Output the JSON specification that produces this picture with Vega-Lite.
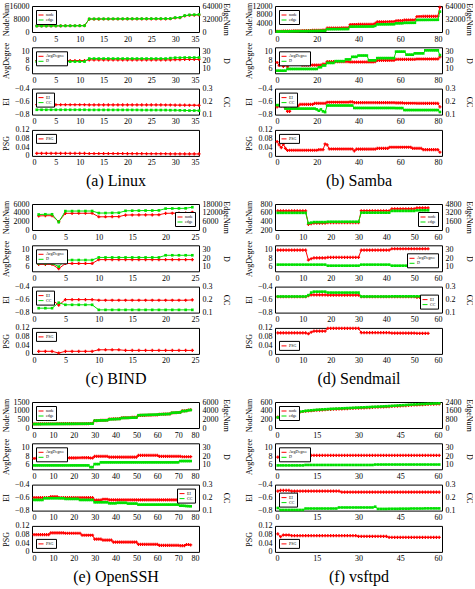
{
"$schema":"https://vega.github.io/schema/vega-lite/v6.json",
"padding":{"left":1,"top":1,"right":0,"bottom":0},
"config":{
"font":"Liberation Serif",
"view":{"stroke":"#000","strokeWidth":1},
"axis":{"labelFont":"Liberation Serif","titleFont":"Liberation Serif","labelFontSize":8,"titleFontSize":8,"titleFontWeight":"normal","labelColor":"#000","titleColor":"#000","grid":false,"domain":false,"ticks":false,"labelPadding":3},
"legend":{"labelFont":"Liberation Serif","labelFontSize":4,"symbolType":"stroke","symbolSize":25,"symbolStrokeWidth":1.5,"strokeColor":"#000","fillColor":"#fff","padding":2,"rowPadding":0,"labelOffset":2,"offset":4},
"line":{"strokeWidth":1}
},
"datasets":{
"linux":[
{"v":1,"n":3700,"e":14710,"a":7.95,"d":18.5,"ei":-0.648,"cc":0.137,"ps":0.012},
{"v":2,"n":3720,"e":14790,"a":7.95,"d":18.5,"ei":-0.648,"cc":0.137,"ps":0.012},
{"v":3,"n":3740,"e":14870,"a":7.95,"d":18.5,"ei":-0.648,"cc":0.137,"ps":0.012},
{"v":4,"n":3760,"e":14950,"a":7.95,"d":18.5,"ei":-0.648,"cc":0.137,"ps":0.012},
{"v":5,"n":3780,"e":15030,"a":7.95,"d":18.5,"ei":-0.648,"cc":0.137,"ps":0.012},
{"v":6,"n":3800,"e":15110,"a":7.95,"d":18.5,"ei":-0.648,"cc":0.137,"ps":0.0118},
{"v":7,"n":3820,"e":15190,"a":7.95,"d":18.5,"ei":-0.648,"cc":0.137,"ps":0.0118},
{"v":8,"n":3840,"e":15260,"a":7.95,"d":18.5,"ei":-0.648,"cc":0.137,"ps":0.0116},
{"v":9,"n":3860,"e":15340,"a":7.95,"d":18.5,"ei":-0.648,"cc":0.137,"ps":0.0116},
{"v":10,"n":3880,"e":15420,"a":7.95,"d":18.5,"ei":-0.648,"cc":0.137,"ps":0.0115},
{"v":11,"n":3900,"e":15500,"a":7.95,"d":18.5,"ei":-0.648,"cc":0.137,"ps":0.0115},
{"v":12,"n":7950,"e":32200,"a":8.1,"d":22,"ei":-0.65,"cc":0.136,"ps":0.011},
{"v":13,"n":7960,"e":32240,"a":8.1,"d":22,"ei":-0.65,"cc":0.136,"ps":0.011},
{"v":14,"n":7970,"e":32280,"a":8.1,"d":22,"ei":-0.65,"cc":0.136,"ps":0.011},
{"v":15,"n":7980,"e":32320,"a":8.1,"d":22,"ei":-0.65,"cc":0.136,"ps":0.011},
{"v":16,"n":7990,"e":32360,"a":8.1,"d":22,"ei":-0.65,"cc":0.136,"ps":0.011},
{"v":17,"n":8000,"e":32400,"a":8.1,"d":22,"ei":-0.65,"cc":0.136,"ps":0.011},
{"v":18,"n":8010,"e":32440,"a":8.1,"d":22,"ei":-0.65,"cc":0.136,"ps":0.011},
{"v":19,"n":8020,"e":32480,"a":8.1,"d":22,"ei":-0.65,"cc":0.136,"ps":0.011},
{"v":20,"n":8030,"e":32520,"a":8.1,"d":22,"ei":-0.65,"cc":0.136,"ps":0.0105},
{"v":21,"n":8040,"e":32560,"a":8.1,"d":22,"ei":-0.65,"cc":0.136,"ps":0.0105},
{"v":22,"n":8050,"e":32600,"a":8.1,"d":22,"ei":-0.65,"cc":0.136,"ps":0.0105},
{"v":23,"n":8060,"e":32640,"a":8.1,"d":22,"ei":-0.651,"cc":0.135,"ps":0.0105},
{"v":24,"n":8070,"e":32680,"a":8.1,"d":22,"ei":-0.651,"cc":0.135,"ps":0.01},
{"v":25,"n":8080,"e":32720,"a":8.1,"d":22,"ei":-0.651,"cc":0.135,"ps":0.01},
{"v":26,"n":8090,"e":32760,"a":8.1,"d":22,"ei":-0.651,"cc":0.135,"ps":0.01},
{"v":27,"n":8100,"e":32800,"a":8.1,"d":22,"ei":-0.651,"cc":0.135,"ps":0.01},
{"v":28,"n":8110,"e":32850,"a":8.1,"d":22,"ei":-0.652,"cc":0.135,"ps":0.01},
{"v":29,"n":8150,"e":33000,"a":8.1,"d":22.5,"ei":-0.652,"cc":0.134,"ps":0.0095},
{"v":30,"n":8700,"e":35400,"a":8.15,"d":23,"ei":-0.653,"cc":0.134,"ps":0.0095},
{"v":31,"n":8800,"e":35800,"a":8.15,"d":23,"ei":-0.654,"cc":0.133,"ps":0.0095},
{"v":32,"n":9900,"e":40400,"a":8.2,"d":23.2,"ei":-0.655,"cc":0.132,"ps":0.009},
{"v":33,"n":10300,"e":42000,"a":8.2,"d":23.2,"ei":-0.656,"cc":0.131,"ps":0.009},
{"v":34,"n":10400,"e":42500,"a":8.2,"d":23.2,"ei":-0.656,"cc":0.131,"ps":0.009},
{"v":35,"n":10500,"e":43000,"a":8.2,"d":23.2,"ei":-0.657,"cc":0.13,"ps":0.009}
],
"samba":[
{"v":1,"n":300,"e":1125,"a":7.5,"d":8,"ei":-0.68,"cc":0.173,"ps":0.066},
{"v":2,"n":325,"e":1105,"a":6.8,"d":8,"ei":-0.665,"cc":0.173,"ps":0.051},
{"v":3,"n":350,"e":1260,"a":7.2,"d":8,"ei":-0.665,"cc":0.173,"ps":0.038},
{"v":4,"n":375,"e":1238,"a":6.6,"d":8,"ei":-0.665,"cc":0.173,"ps":0.054},
{"v":5,"n":400,"e":1400,"a":7.0,"d":8,"ei":-0.7,"cc":0.146,"ps":0.035},
{"v":6,"n":425,"e":1381,"a":6.5,"d":10,"ei":-0.75,"cc":0.146,"ps":0.025},
{"v":7,"n":450,"e":1665,"a":7.4,"d":10,"ei":-0.75,"cc":0.146,"ps":0.026},
{"v":8,"n":475,"e":1758,"a":7.4,"d":10,"ei":-0.67,"cc":0.146,"ps":0.026},
{"v":9,"n":500,"e":1850,"a":7.4,"d":10,"ei":-0.67,"cc":0.146,"ps":0.026},
{"v":10,"n":525,"e":1943,"a":7.4,"d":10,"ei":-0.67,"cc":0.146,"ps":0.026},
{"v":11,"n":550,"e":2035,"a":7.4,"d":10,"ei":-0.67,"cc":0.146,"ps":0.026},
{"v":12,"n":575,"e":2128,"a":7.4,"d":10,"ei":-0.643,"cc":0.146,"ps":0.026},
{"v":13,"n":600,"e":2070,"a":6.9,"d":10,"ei":-0.643,"cc":0.146,"ps":0.026},
{"v":14,"n":625,"e":2156,"a":6.9,"d":10,"ei":-0.643,"cc":0.146,"ps":0.026},
{"v":15,"n":650,"e":2243,"a":6.9,"d":10,"ei":-0.643,"cc":0.146,"ps":0.026},
{"v":16,"n":675,"e":2329,"a":6.9,"d":10,"ei":-0.643,"cc":0.146,"ps":0.026},
{"v":17,"n":700,"e":2415,"a":6.9,"d":10,"ei":-0.643,"cc":0.146,"ps":0.026},
{"v":18,"n":725,"e":2501,"a":6.9,"d":10,"ei":-0.643,"cc":0.146,"ps":0.026},
{"v":19,"n":750,"e":2588,"a":6.9,"d":10,"ei":-0.627,"cc":0.146,"ps":0.026},
{"v":20,"n":775,"e":2674,"a":6.9,"d":10,"ei":-0.627,"cc":0.14,"ps":0.026},
{"v":21,"n":800,"e":2760,"a":6.9,"d":12,"ei":-0.627,"cc":0.13,"ps":0.029},
{"v":22,"n":825,"e":2846,"a":6.9,"d":12,"ei":-0.627,"cc":0.14,"ps":0.029},
{"v":23,"n":850,"e":3018,"a":7.1,"d":14,"ei":-0.627,"cc":0.125,"ps":0.029},
{"v":24,"n":875,"e":3106,"a":7.1,"d":14,"ei":-0.627,"cc":0.119,"ps":0.055},
{"v":25,"n":1800,"e":6930,"a":7.7,"d":17,"ei":-0.61,"cc":0.17,"ps":0.051},
{"v":26,"n":1810,"e":6969,"a":7.7,"d":17,"ei":-0.61,"cc":0.17,"ps":0.032},
{"v":27,"n":1820,"e":7007,"a":7.7,"d":17,"ei":-0.61,"cc":0.17,"ps":0.032},
{"v":28,"n":1830,"e":7046,"a":7.7,"d":17,"ei":-0.61,"cc":0.17,"ps":0.032},
{"v":29,"n":1840,"e":7084,"a":7.7,"d":19,"ei":-0.61,"cc":0.17,"ps":0.032},
{"v":30,"n":1850,"e":7123,"a":7.7,"d":19,"ei":-0.61,"cc":0.17,"ps":0.032},
{"v":31,"n":1860,"e":7161,"a":7.7,"d":19,"ei":-0.61,"cc":0.17,"ps":0.032},
{"v":32,"n":1870,"e":7200,"a":7.7,"d":19,"ei":-0.61,"cc":0.17,"ps":0.032},
{"v":33,"n":1880,"e":7238,"a":7.7,"d":19,"ei":-0.61,"cc":0.17,"ps":0.032},
{"v":34,"n":1890,"e":7277,"a":7.7,"d":21,"ei":-0.61,"cc":0.17,"ps":0.032},
{"v":35,"n":1900,"e":7315,"a":7.7,"d":21,"ei":-0.61,"cc":0.17,"ps":0.032},
{"v":36,"n":3450,"e":13110,"a":7.6,"d":21,"ei":-0.605,"cc":0.17,"ps":0.032},
{"v":37,"n":3460,"e":13148,"a":7.6,"d":24,"ei":-0.605,"cc":0.17,"ps":0.032},
{"v":38,"n":3470,"e":13186,"a":7.6,"d":24,"ei":-0.615,"cc":0.151,"ps":0.023},
{"v":39,"n":3480,"e":13224,"a":7.6,"d":24,"ei":-0.615,"cc":0.151,"ps":0.031},
{"v":40,"n":3490,"e":13262,"a":7.6,"d":25.5,"ei":-0.615,"cc":0.151,"ps":0.031},
{"v":41,"n":3500,"e":13300,"a":7.6,"d":25.5,"ei":-0.615,"cc":0.151,"ps":0.031},
{"v":42,"n":3510,"e":13338,"a":7.6,"d":25.5,"ei":-0.615,"cc":0.151,"ps":0.031},
{"v":43,"n":3520,"e":13376,"a":7.6,"d":25.5,"ei":-0.615,"cc":0.151,"ps":0.031},
{"v":44,"n":3530,"e":13414,"a":7.6,"d":25.5,"ei":-0.615,"cc":0.151,"ps":0.031},
{"v":45,"n":3540,"e":13452,"a":7.6,"d":20,"ei":-0.615,"cc":0.151,"ps":0.031},
{"v":46,"n":3550,"e":13490,"a":7.6,"d":20,"ei":-0.615,"cc":0.151,"ps":0.031},
{"v":47,"n":3560,"e":13528,"a":7.6,"d":20,"ei":-0.615,"cc":0.151,"ps":0.031},
{"v":48,"n":3950,"e":15208,"a":7.7,"d":20,"ei":-0.615,"cc":0.151,"ps":0.031},
{"v":49,"n":4700,"e":18800,"a":8.0,"d":22.5,"ei":-0.617,"cc":0.151,"ps":0.035},
{"v":50,"n":4710,"e":18840,"a":8.0,"d":22.5,"ei":-0.617,"cc":0.151,"ps":0.035},
{"v":51,"n":4720,"e":18880,"a":8.0,"d":22.5,"ei":-0.617,"cc":0.151,"ps":0.035},
{"v":52,"n":4730,"e":18920,"a":8.0,"d":22.5,"ei":-0.617,"cc":0.151,"ps":0.035},
{"v":53,"n":4740,"e":18960,"a":8.0,"d":22.5,"ei":-0.617,"cc":0.151,"ps":0.035},
{"v":54,"n":4750,"e":19000,"a":8.0,"d":22.5,"ei":-0.617,"cc":0.151,"ps":0.035},
{"v":55,"n":4760,"e":19040,"a":8.0,"d":22.5,"ei":-0.617,"cc":0.151,"ps":0.04},
{"v":56,"n":4770,"e":19080,"a":8.0,"d":22.5,"ei":-0.617,"cc":0.151,"ps":0.04},
{"v":57,"n":4780,"e":19120,"a":8.0,"d":22.5,"ei":-0.617,"cc":0.151,"ps":0.04},
{"v":58,"n":5200,"e":21320,"a":8.2,"d":30,"ei":-0.62,"cc":0.15,"ps":0.04},
{"v":59,"n":5215,"e":21382,"a":8.2,"d":30,"ei":-0.62,"cc":0.15,"ps":0.04},
{"v":60,"n":5230,"e":21443,"a":8.2,"d":30,"ei":-0.62,"cc":0.15,"ps":0.04},
{"v":61,"n":5245,"e":21505,"a":8.2,"d":30,"ei":-0.62,"cc":0.15,"ps":0.04},
{"v":62,"n":5500,"e":22550,"a":8.2,"d":30,"ei":-0.625,"cc":0.135,"ps":0.04},
{"v":63,"n":5510,"e":22591,"a":8.2,"d":26.5,"ei":-0.625,"cc":0.135,"ps":0.04},
{"v":64,"n":5520,"e":22632,"a":8.2,"d":26.5,"ei":-0.625,"cc":0.135,"ps":0.04},
{"v":65,"n":5530,"e":22673,"a":8.2,"d":26.5,"ei":-0.625,"cc":0.135,"ps":0.04},
{"v":66,"n":5540,"e":22714,"a":8.2,"d":26.5,"ei":-0.625,"cc":0.135,"ps":0.035},
{"v":67,"n":5550,"e":22755,"a":8.2,"d":28,"ei":-0.625,"cc":0.135,"ps":0.035},
{"v":68,"n":7150,"e":29673,"a":8.3,"d":28,"ei":-0.627,"cc":0.135,"ps":0.035},
{"v":69,"n":7160,"e":29714,"a":8.3,"d":28,"ei":-0.627,"cc":0.135,"ps":0.035},
{"v":70,"n":7170,"e":29756,"a":8.3,"d":28,"ei":-0.627,"cc":0.135,"ps":0.035},
{"v":71,"n":7180,"e":29797,"a":8.3,"d":28,"ei":-0.627,"cc":0.135,"ps":0.029},
{"v":72,"n":7190,"e":29839,"a":8.3,"d":31.5,"ei":-0.627,"cc":0.135,"ps":0.029},
{"v":73,"n":7200,"e":29880,"a":8.3,"d":31.5,"ei":-0.627,"cc":0.135,"ps":0.029},
{"v":74,"n":7210,"e":29922,"a":8.3,"d":31.5,"ei":-0.627,"cc":0.135,"ps":0.029},
{"v":75,"n":7220,"e":29963,"a":8.3,"d":31.5,"ei":-0.627,"cc":0.135,"ps":0.029},
{"v":76,"n":7230,"e":30005,"a":8.3,"d":31.5,"ei":-0.627,"cc":0.135,"ps":0.029},
{"v":77,"n":7240,"e":30046,"a":8.3,"d":31.5,"ei":-0.627,"cc":0.135,"ps":0.029},
{"v":78,"n":7250,"e":30088,"a":8.3,"d":31.5,"ei":-0.627,"cc":0.135,"ps":0.029},
{"v":79,"n":11400,"e":50160,"a":8.8,"d":26,"ei":-0.68,"cc":0.12,"ps":0.017}
],
"bind":[
{"v":1,"n":3250,"e":10725,"a":6.6,"d":14.2,"ei":-0.6,"cc":0.134,"ps":0.012},
{"v":2,"n":3300,"e":10890,"a":6.6,"d":14.2,"ei":-0.6,"cc":0.134,"ps":0.012},
{"v":3,"n":3300,"e":10890,"a":6.6,"d":14.2,"ei":-0.6,"cc":0.134,"ps":0.012},
{"v":4,"n":1950,"e":5460,"a":5.6,"d":10.4,"ei":-0.685,"cc":0.176,"ps":0.004},
{"v":5,"n":3850,"e":13090,"a":6.8,"d":18,"ei":-0.6,"cc":0.16,"ps":0.012},
{"v":6,"n":3850,"e":13090,"a":6.8,"d":18,"ei":-0.6,"cc":0.16,"ps":0.012},
{"v":7,"n":3860,"e":13124,"a":6.8,"d":18,"ei":-0.6,"cc":0.16,"ps":0.012},
{"v":8,"n":3860,"e":13124,"a":6.8,"d":18,"ei":-0.6,"cc":0.16,"ps":0.012},
{"v":9,"n":3870,"e":13158,"a":6.8,"d":18,"ei":-0.6,"cc":0.16,"ps":0.012},
{"v":10,"n":3050,"e":11743,"a":7.7,"d":21,"ei":-0.61,"cc":0.121,"ps":0.019},
{"v":11,"n":3050,"e":11743,"a":7.7,"d":21,"ei":-0.61,"cc":0.121,"ps":0.019},
{"v":12,"n":3080,"e":11858,"a":7.7,"d":21,"ei":-0.61,"cc":0.121,"ps":0.019},
{"v":13,"n":3100,"e":11935,"a":7.7,"d":21,"ei":-0.61,"cc":0.121,"ps":0.019},
{"v":14,"n":3450,"e":13283,"a":7.7,"d":21,"ei":-0.61,"cc":0.121,"ps":0.016},
{"v":15,"n":3470,"e":13360,"a":7.7,"d":21,"ei":-0.61,"cc":0.121,"ps":0.016},
{"v":16,"n":3480,"e":13398,"a":7.7,"d":21,"ei":-0.61,"cc":0.121,"ps":0.016},
{"v":17,"n":3500,"e":13475,"a":7.7,"d":21,"ei":-0.61,"cc":0.121,"ps":0.016},
{"v":18,"n":3500,"e":13475,"a":7.7,"d":21,"ei":-0.61,"cc":0.121,"ps":0.016},
{"v":19,"n":3520,"e":13552,"a":7.7,"d":21,"ei":-0.61,"cc":0.121,"ps":0.016},
{"v":20,"n":3850,"e":14823,"a":7.7,"d":23.5,"ei":-0.61,"cc":0.121,"ps":0.016},
{"v":21,"n":3870,"e":14900,"a":7.7,"d":23.5,"ei":-0.61,"cc":0.121,"ps":0.016},
{"v":22,"n":3880,"e":14938,"a":7.7,"d":23.5,"ei":-0.61,"cc":0.121,"ps":0.016},
{"v":23,"n":3900,"e":15015,"a":7.7,"d":23.5,"ei":-0.61,"cc":0.121,"ps":0.016},
{"v":24,"n":4100,"e":15785,"a":7.7,"d":23.5,"ei":-0.605,"cc":0.121,"ps":0.016}
],
"sendmail":[
{"v":1,"n":640,"e":3168,"a":9.9,"d":12.7,"ei":-0.556,"cc":0.224,"ps":0.097},
{"v":2,"n":640,"e":3168,"a":9.9,"d":12.7,"ei":-0.556,"cc":0.224,"ps":0.097},
{"v":3,"n":640,"e":3168,"a":9.9,"d":12.7,"ei":-0.556,"cc":0.224,"ps":0.097},
{"v":4,"n":640,"e":3168,"a":9.9,"d":12.7,"ei":-0.556,"cc":0.224,"ps":0.097},
{"v":5,"n":640,"e":3168,"a":9.9,"d":12.7,"ei":-0.556,"cc":0.224,"ps":0.097},
{"v":6,"n":640,"e":3168,"a":9.9,"d":12.7,"ei":-0.556,"cc":0.224,"ps":0.097},
{"v":7,"n":640,"e":3168,"a":9.9,"d":12.7,"ei":-0.556,"cc":0.224,"ps":0.097},
{"v":8,"n":640,"e":3168,"a":9.9,"d":12.7,"ei":-0.556,"cc":0.224,"ps":0.097},
{"v":9,"n":640,"e":3168,"a":9.9,"d":12.7,"ei":-0.556,"cc":0.224,"ps":0.097},
{"v":10,"n":640,"e":3168,"a":9.9,"d":12.7,"ei":-0.556,"cc":0.224,"ps":0.097},
{"v":11,"n":640,"e":3168,"a":9.9,"d":12.7,"ei":-0.556,"cc":0.224,"ps":0.097},
{"v":12,"n":330,"e":1254,"a":7.6,"d":12.7,"ei":-0.54,"cc":0.234,"ps":0.093},
{"v":13,"n":345,"e":1363,"a":7.9,"d":12.7,"ei":-0.527,"cc":0.254,"ps":0.1},
{"v":14,"n":360,"e":1458,"a":8.1,"d":12.7,"ei":-0.527,"cc":0.261,"ps":0.105},
{"v":15,"n":360,"e":1458,"a":8.1,"d":12.7,"ei":-0.527,"cc":0.261,"ps":0.105},
{"v":16,"n":360,"e":1458,"a":8.1,"d":12.7,"ei":-0.527,"cc":0.261,"ps":0.105},
{"v":17,"n":360,"e":1458,"a":8.1,"d":12.7,"ei":-0.527,"cc":0.261,"ps":0.105},
{"v":18,"n":360,"e":1458,"a":8.1,"d":12.7,"ei":-0.527,"cc":0.261,"ps":0.105},
{"v":19,"n":372,"e":1525,"a":8.2,"d":11.5,"ei":-0.53,"cc":0.254,"ps":0.118},
{"v":20,"n":372,"e":1525,"a":8.2,"d":11.5,"ei":-0.53,"cc":0.254,"ps":0.118},
{"v":21,"n":372,"e":1525,"a":8.2,"d":11.5,"ei":-0.53,"cc":0.254,"ps":0.118},
{"v":22,"n":372,"e":1525,"a":8.2,"d":11.5,"ei":-0.53,"cc":0.254,"ps":0.118},
{"v":23,"n":372,"e":1525,"a":8.2,"d":11.5,"ei":-0.53,"cc":0.254,"ps":0.118},
{"v":24,"n":372,"e":1525,"a":8.2,"d":11.5,"ei":-0.53,"cc":0.254,"ps":0.118},
{"v":25,"n":372,"e":1525,"a":8.2,"d":11.5,"ei":-0.53,"cc":0.254,"ps":0.118},
{"v":26,"n":372,"e":1525,"a":8.2,"d":11.5,"ei":-0.53,"cc":0.254,"ps":0.118},
{"v":27,"n":372,"e":1525,"a":8.2,"d":11.5,"ei":-0.53,"cc":0.254,"ps":0.118},
{"v":28,"n":372,"e":1525,"a":8.2,"d":11.5,"ei":-0.53,"cc":0.254,"ps":0.118},
{"v":29,"n":372,"e":1525,"a":8.2,"d":11.5,"ei":-0.53,"cc":0.254,"ps":0.118},
{"v":30,"n":372,"e":1525,"a":8.2,"d":11.5,"ei":-0.53,"cc":0.254,"ps":0.118},
{"v":31,"n":645,"e":3193,"a":9.9,"d":12.7,"ei":-0.556,"cc":0.224,"ps":0.098},
{"v":32,"n":645,"e":3193,"a":9.9,"d":12.7,"ei":-0.556,"cc":0.224,"ps":0.098},
{"v":33,"n":645,"e":3193,"a":9.9,"d":12.7,"ei":-0.556,"cc":0.224,"ps":0.098},
{"v":34,"n":645,"e":3193,"a":9.9,"d":12.7,"ei":-0.556,"cc":0.224,"ps":0.098},
{"v":35,"n":645,"e":3193,"a":9.9,"d":12.7,"ei":-0.556,"cc":0.224,"ps":0.098},
{"v":36,"n":645,"e":3193,"a":9.9,"d":12.7,"ei":-0.556,"cc":0.224,"ps":0.098},
{"v":37,"n":645,"e":3193,"a":9.9,"d":12.7,"ei":-0.556,"cc":0.224,"ps":0.098},
{"v":38,"n":645,"e":3193,"a":9.9,"d":12.7,"ei":-0.556,"cc":0.224,"ps":0.098},
{"v":39,"n":645,"e":3193,"a":9.9,"d":12.7,"ei":-0.556,"cc":0.224,"ps":0.098},
{"v":40,"n":645,"e":3193,"a":9.9,"d":12.7,"ei":-0.556,"cc":0.224,"ps":0.098},
{"v":41,"n":645,"e":3193,"a":9.9,"d":12.7,"ei":-0.556,"cc":0.224,"ps":0.098},
{"v":42,"n":690,"e":3519,"a":10.2,"d":11.5,"ei":-0.556,"cc":0.225,"ps":0.096},
{"v":43,"n":690,"e":3519,"a":10.2,"d":11.5,"ei":-0.556,"cc":0.225,"ps":0.096},
{"v":44,"n":690,"e":3519,"a":10.2,"d":11.5,"ei":-0.556,"cc":0.225,"ps":0.096},
{"v":45,"n":690,"e":3519,"a":10.2,"d":11.5,"ei":-0.556,"cc":0.225,"ps":0.096},
{"v":46,"n":690,"e":3519,"a":10.2,"d":11.5,"ei":-0.556,"cc":0.225,"ps":0.096},
{"v":47,"n":690,"e":3519,"a":10.2,"d":11.5,"ei":-0.556,"cc":0.225,"ps":0.096},
{"v":48,"n":690,"e":3519,"a":10.2,"d":11.5,"ei":-0.556,"cc":0.225,"ps":0.096},
{"v":49,"n":690,"e":3519,"a":10.2,"d":11.5,"ei":-0.556,"cc":0.225,"ps":0.096},
{"v":50,"n":690,"e":3519,"a":10.2,"d":11.5,"ei":-0.556,"cc":0.225,"ps":0.096},
{"v":51,"n":712,"e":3631,"a":10.2,"d":11.5,"ei":-0.566,"cc":0.225,"ps":0.095},
{"v":52,"n":712,"e":3631,"a":10.2,"d":11.5,"ei":-0.566,"cc":0.225,"ps":0.095},
{"v":53,"n":712,"e":3631,"a":10.2,"d":11.5,"ei":-0.566,"cc":0.225,"ps":0.095},
{"v":54,"n":712,"e":3631,"a":10.2,"d":11.5,"ei":-0.566,"cc":0.225,"ps":0.095},
{"v":55,"n":712,"e":3631,"a":10.2,"d":11.5,"ei":-0.566,"cc":0.225,"ps":0.095}
],
"openssh":[
{"v":1,"n":240,"e":900,"a":7.5,"d":9.5,"ei":-0.6,"cc":0.182,"ps":0.08},
{"v":2,"n":241,"e":904,"a":7.51,"d":9.5,"ei":-0.6,"cc":0.182,"ps":0.08},
{"v":3,"n":241,"e":907,"a":7.52,"d":9.5,"ei":-0.6,"cc":0.182,"ps":0.08},
{"v":4,"n":242,"e":911,"a":7.52,"d":9.5,"ei":-0.6,"cc":0.182,"ps":0.08},
{"v":5,"n":243,"e":914,"a":7.53,"d":9.5,"ei":-0.6,"cc":0.182,"ps":0.08},
{"v":6,"n":243,"e":918,"a":7.54,"d":9.5,"ei":-0.6,"cc":0.195,"ps":0.08},
{"v":7,"n":244,"e":921,"a":7.55,"d":9.5,"ei":-0.6,"cc":0.195,"ps":0.08},
{"v":8,"n":245,"e":925,"a":7.55,"d":9.5,"ei":-0.6,"cc":0.195,"ps":0.08},
{"v":9,"n":246,"e":928,"a":7.56,"d":9.5,"ei":-0.585,"cc":0.195,"ps":0.088},
{"v":10,"n":246,"e":932,"a":7.57,"d":9.5,"ei":-0.585,"cc":0.195,"ps":0.088},
{"v":11,"n":247,"e":935,"a":7.58,"d":9.5,"ei":-0.585,"cc":0.195,"ps":0.088},
{"v":12,"n":248,"e":939,"a":7.58,"d":9.5,"ei":-0.585,"cc":0.195,"ps":0.088},
{"v":13,"n":248,"e":942,"a":7.59,"d":9.5,"ei":-0.6,"cc":0.195,"ps":0.088},
{"v":14,"n":249,"e":946,"a":7.6,"d":9.5,"ei":-0.6,"cc":0.195,"ps":0.088},
{"v":15,"n":249,"e":949,"a":7.61,"d":9.5,"ei":-0.6,"cc":0.195,"ps":0.088},
{"v":16,"n":250,"e":953,"a":7.62,"d":9.5,"ei":-0.6,"cc":0.19,"ps":0.086},
{"v":17,"n":251,"e":956,"a":7.62,"d":9.5,"ei":-0.6,"cc":0.19,"ps":0.086},
{"v":18,"n":252,"e":960,"a":7.63,"d":9.5,"ei":-0.6,"cc":0.19,"ps":0.086},
{"v":19,"n":252,"e":963,"a":7.64,"d":9.5,"ei":-0.6,"cc":0.19,"ps":0.086},
{"v":20,"n":253,"e":967,"a":7.65,"d":9.5,"ei":-0.6,"cc":0.19,"ps":0.086},
{"v":21,"n":254,"e":970,"a":7.65,"d":9.5,"ei":-0.6,"cc":0.19,"ps":0.086},
{"v":22,"n":254,"e":974,"a":7.66,"d":9.5,"ei":-0.6,"cc":0.19,"ps":0.086},
{"v":23,"n":255,"e":977,"a":7.67,"d":9.5,"ei":-0.6,"cc":0.182,"ps":0.086},
{"v":24,"n":255,"e":981,"a":7.68,"d":9.5,"ei":-0.6,"cc":0.182,"ps":0.077},
{"v":25,"n":256,"e":984,"a":7.68,"d":9.5,"ei":-0.6,"cc":0.182,"ps":0.077},
{"v":26,"n":257,"e":988,"a":7.69,"d":9.5,"ei":-0.6,"cc":0.182,"ps":0.077},
{"v":27,"n":257,"e":991,"a":7.7,"d":9.5,"ei":-0.6,"cc":0.182,"ps":0.077},
{"v":28,"n":262,"e":994,"a":7.6,"d":7.5,"ei":-0.6,"cc":0.182,"ps":0.077},
{"v":29,"n":263,"e":998,"a":7.6,"d":7.5,"ei":-0.6,"cc":0.182,"ps":0.077},
{"v":30,"n":425,"e":1700,"a":8.0,"d":11,"ei":-0.64,"cc":0.164,"ps":0.059},
{"v":31,"n":429,"e":1715,"a":8.0,"d":11,"ei":-0.64,"cc":0.164,"ps":0.059},
{"v":32,"n":433,"e":1730,"a":8.0,"d":11,"ei":-0.64,"cc":0.164,"ps":0.059},
{"v":33,"n":436,"e":1745,"a":8.0,"d":13,"ei":-0.64,"cc":0.164,"ps":0.059},
{"v":34,"n":440,"e":1760,"a":8.0,"d":13,"ei":-0.625,"cc":0.164,"ps":0.054},
{"v":35,"n":444,"e":1775,"a":8.0,"d":13,"ei":-0.625,"cc":0.164,"ps":0.054},
{"v":36,"n":448,"e":1790,"a":8.0,"d":13,"ei":-0.625,"cc":0.164,"ps":0.054},
{"v":37,"n":513,"e":2000,"a":7.8,"d":13,"ei":-0.635,"cc":0.156,"ps":0.054},
{"v":38,"n":518,"e":2020,"a":7.8,"d":13,"ei":-0.635,"cc":0.156,"ps":0.054},
{"v":39,"n":523,"e":2040,"a":7.8,"d":13,"ei":-0.635,"cc":0.156,"ps":0.045},
{"v":40,"n":528,"e":2060,"a":7.8,"d":13,"ei":-0.635,"cc":0.156,"ps":0.045},
{"v":41,"n":533,"e":2080,"a":7.8,"d":13,"ei":-0.635,"cc":0.16,"ps":0.045},
{"v":42,"n":538,"e":2100,"a":7.8,"d":13,"ei":-0.635,"cc":0.16,"ps":0.045},
{"v":43,"n":590,"e":2300,"a":7.8,"d":13,"ei":-0.635,"cc":0.16,"ps":0.045},
{"v":44,"n":594,"e":2315,"a":7.8,"d":13,"ei":-0.635,"cc":0.16,"ps":0.045},
{"v":45,"n":597,"e":2330,"a":7.8,"d":13,"ei":-0.635,"cc":0.16,"ps":0.045},
{"v":46,"n":601,"e":2345,"a":7.8,"d":13,"ei":-0.635,"cc":0.154,"ps":0.045},
{"v":47,"n":605,"e":2360,"a":7.8,"d":13,"ei":-0.635,"cc":0.154,"ps":0.045},
{"v":48,"n":609,"e":2375,"a":7.8,"d":13,"ei":-0.635,"cc":0.154,"ps":0.045},
{"v":49,"n":613,"e":2390,"a":7.8,"d":13,"ei":-0.635,"cc":0.154,"ps":0.045},
{"v":50,"n":615,"e":2400,"a":7.8,"d":13,"ei":-0.635,"cc":0.154,"ps":0.045},
{"v":51,"n":720,"e":2950,"a":8.2,"d":13,"ei":-0.635,"cc":0.146,"ps":0.035},
{"v":52,"n":724,"e":2967,"a":8.2,"d":13,"ei":-0.635,"cc":0.146,"ps":0.035},
{"v":53,"n":728,"e":2983,"a":8.2,"d":13,"ei":-0.635,"cc":0.146,"ps":0.035},
{"v":54,"n":732,"e":3000,"a":8.2,"d":13,"ei":-0.635,"cc":0.146,"ps":0.035},
{"v":55,"n":736,"e":3017,"a":8.2,"d":13,"ei":-0.635,"cc":0.146,"ps":0.035},
{"v":56,"n":740,"e":3033,"a":8.2,"d":13,"ei":-0.635,"cc":0.146,"ps":0.035},
{"v":57,"n":744,"e":3050,"a":8.2,"d":13,"ei":-0.635,"cc":0.146,"ps":0.035},
{"v":58,"n":748,"e":3067,"a":8.2,"d":13,"ei":-0.635,"cc":0.146,"ps":0.035},
{"v":59,"n":752,"e":3083,"a":8.2,"d":13,"ei":-0.635,"cc":0.146,"ps":0.035},
{"v":60,"n":756,"e":3100,"a":8.2,"d":13,"ei":-0.635,"cc":0.146,"ps":0.035},
{"v":61,"n":788,"e":3150,"a":8.0,"d":13,"ei":-0.635,"cc":0.146,"ps":0.03},
{"v":62,"n":793,"e":3170,"a":8.0,"d":13,"ei":-0.635,"cc":0.146,"ps":0.03},
{"v":63,"n":798,"e":3190,"a":8.0,"d":13,"ei":-0.635,"cc":0.146,"ps":0.03},
{"v":64,"n":803,"e":3210,"a":8.0,"d":13,"ei":-0.635,"cc":0.146,"ps":0.03},
{"v":65,"n":808,"e":3230,"a":8.0,"d":13,"ei":-0.635,"cc":0.146,"ps":0.03},
{"v":66,"n":813,"e":3250,"a":8.0,"d":13,"ei":-0.635,"cc":0.146,"ps":0.03},
{"v":67,"n":875,"e":3500,"a":8.0,"d":13,"ei":-0.635,"cc":0.146,"ps":0.03},
{"v":68,"n":881,"e":3525,"a":8.0,"d":13,"ei":-0.635,"cc":0.146,"ps":0.03},
{"v":69,"n":888,"e":3550,"a":8.0,"d":13,"ei":-0.635,"cc":0.146,"ps":0.03},
{"v":70,"n":894,"e":3575,"a":8.0,"d":13,"ei":-0.635,"cc":0.146,"ps":0.03},
{"v":71,"n":900,"e":3600,"a":8.0,"d":14.5,"ei":-0.635,"cc":0.138,"ps":0.029},
{"v":72,"n":987,"e":3900,"a":7.9,"d":14.5,"ei":-0.635,"cc":0.138,"ps":0.029},
{"v":73,"n":992,"e":3920,"a":7.9,"d":14.5,"ei":-0.635,"cc":0.137,"ps":0.029},
{"v":74,"n":1000,"e":3950,"a":7.9,"d":14.5,"ei":-0.635,"cc":0.135,"ps":0.034},
{"v":75,"n":1038,"e":4100,"a":7.9,"d":14.5,"ei":-0.635,"cc":0.134,"ps":0.034},
{"v":76,"n":1051,"e":4150,"a":7.9,"d":14.5,"ei":-0.635,"cc":0.133,"ps":0.032}
],
"vsftpd":[
{"v":1,"n":250,"e":975,"a":7.8,"d":9.5,"ei":-0.5,"cc":0.12,"ps":0.083},
{"v":2,"n":270,"e":1067,"a":7.9,"d":9.5,"ei":-0.49,"cc":0.105,"ps":0.07},
{"v":3,"n":290,"e":1160,"a":8.0,"d":9.5,"ei":-0.49,"cc":0.105,"ps":0.078},
{"v":4,"n":310,"e":1240,"a":8.0,"d":9.5,"ei":-0.49,"cc":0.105,"ps":0.078},
{"v":5,"n":330,"e":1337,"a":8.1,"d":9.5,"ei":-0.49,"cc":0.105,"ps":0.078},
{"v":6,"n":340,"e":1377,"a":8.1,"d":9.5,"ei":-0.5,"cc":0.105,"ps":0.075},
{"v":7,"n":350,"e":1418,"a":8.1,"d":9.5,"ei":-0.5,"cc":0.105,"ps":0.075},
{"v":8,"n":360,"e":1458,"a":8.1,"d":9.5,"ei":-0.5,"cc":0.105,"ps":0.075},
{"v":9,"n":370,"e":1499,"a":8.1,"d":9.5,"ei":-0.5,"cc":0.105,"ps":0.075},
{"v":10,"n":380,"e":1539,"a":8.1,"d":9.5,"ei":-0.5,"cc":0.105,"ps":0.075},
{"v":11,"n":386,"e":1583,"a":8.2,"d":10,"ei":-0.5,"cc":0.116,"ps":0.075},
{"v":12,"n":392,"e":1607,"a":8.2,"d":10,"ei":-0.5,"cc":0.116,"ps":0.075},
{"v":13,"n":398,"e":1632,"a":8.2,"d":10,"ei":-0.5,"cc":0.116,"ps":0.075},
{"v":14,"n":404,"e":1656,"a":8.2,"d":10,"ei":-0.5,"cc":0.116,"ps":0.075},
{"v":15,"n":410,"e":1681,"a":8.2,"d":10,"ei":-0.5,"cc":0.116,"ps":0.075},
{"v":16,"n":414,"e":1697,"a":8.2,"d":10,"ei":-0.5,"cc":0.116,"ps":0.075},
{"v":17,"n":418,"e":1714,"a":8.2,"d":10,"ei":-0.5,"cc":0.116,"ps":0.075},
{"v":18,"n":422,"e":1730,"a":8.2,"d":10,"ei":-0.5,"cc":0.116,"ps":0.075},
{"v":19,"n":426,"e":1747,"a":8.2,"d":10,"ei":-0.5,"cc":0.116,"ps":0.075},
{"v":20,"n":430,"e":1763,"a":8.2,"d":10,"ei":-0.5,"cc":0.116,"ps":0.075},
{"v":21,"n":433,"e":1775,"a":8.2,"d":10,"ei":-0.5,"cc":0.116,"ps":0.075},
{"v":22,"n":436,"e":1788,"a":8.2,"d":10,"ei":-0.5,"cc":0.116,"ps":0.075},
{"v":23,"n":439,"e":1800,"a":8.2,"d":10,"ei":-0.5,"cc":0.124,"ps":0.075},
{"v":24,"n":442,"e":1812,"a":8.2,"d":10,"ei":-0.515,"cc":0.124,"ps":0.075},
{"v":25,"n":445,"e":1825,"a":8.2,"d":10,"ei":-0.515,"cc":0.124,"ps":0.075},
{"v":26,"n":448,"e":1837,"a":8.2,"d":10,"ei":-0.515,"cc":0.124,"ps":0.075},
{"v":27,"n":451,"e":1849,"a":8.2,"d":10,"ei":-0.515,"cc":0.124,"ps":0.075},
{"v":28,"n":454,"e":1861,"a":8.2,"d":10,"ei":-0.515,"cc":0.124,"ps":0.075},
{"v":29,"n":457,"e":1874,"a":8.2,"d":10,"ei":-0.515,"cc":0.124,"ps":0.075},
{"v":30,"n":460,"e":1886,"a":8.2,"d":10,"ei":-0.515,"cc":0.124,"ps":0.072},
{"v":31,"n":463,"e":1898,"a":8.2,"d":10,"ei":-0.515,"cc":0.124,"ps":0.072},
{"v":32,"n":466,"e":1911,"a":8.2,"d":10,"ei":-0.515,"cc":0.124,"ps":0.072},
{"v":33,"n":469,"e":1923,"a":8.2,"d":10,"ei":-0.515,"cc":0.124,"ps":0.072},
{"v":34,"n":472,"e":1935,"a":8.2,"d":10,"ei":-0.515,"cc":0.124,"ps":0.072},
{"v":35,"n":475,"e":1948,"a":8.2,"d":10,"ei":-0.515,"cc":0.124,"ps":0.072},
{"v":36,"n":478,"e":1960,"a":8.2,"d":10.5,"ei":-0.515,"cc":0.13,"ps":0.072},
{"v":37,"n":481,"e":1972,"a":8.2,"d":10.5,"ei":-0.515,"cc":0.113,"ps":0.072},
{"v":38,"n":484,"e":1984,"a":8.2,"d":10.5,"ei":-0.515,"cc":0.113,"ps":0.072},
{"v":39,"n":487,"e":1997,"a":8.2,"d":10.5,"ei":-0.515,"cc":0.113,"ps":0.072},
{"v":40,"n":490,"e":2009,"a":8.2,"d":10.5,"ei":-0.515,"cc":0.113,"ps":0.072},
{"v":41,"n":494,"e":2025,"a":8.2,"d":10.5,"ei":-0.515,"cc":0.114,"ps":0.067},
{"v":42,"n":498,"e":2042,"a":8.2,"d":10.5,"ei":-0.515,"cc":0.114,"ps":0.067},
{"v":43,"n":502,"e":2058,"a":8.2,"d":10.5,"ei":-0.515,"cc":0.114,"ps":0.067},
{"v":44,"n":506,"e":2075,"a":8.2,"d":10.5,"ei":-0.515,"cc":0.114,"ps":0.067},
{"v":45,"n":510,"e":2091,"a":8.2,"d":10.5,"ei":-0.515,"cc":0.115,"ps":0.067},
{"v":46,"n":514,"e":2107,"a":8.2,"d":10.5,"ei":-0.515,"cc":0.115,"ps":0.067},
{"v":47,"n":518,"e":2124,"a":8.2,"d":10.5,"ei":-0.515,"cc":0.115,"ps":0.067},
{"v":48,"n":522,"e":2140,"a":8.2,"d":10.5,"ei":-0.515,"cc":0.115,"ps":0.067},
{"v":49,"n":526,"e":2157,"a":8.2,"d":10.5,"ei":-0.515,"cc":0.116,"ps":0.067},
{"v":50,"n":530,"e":2173,"a":8.2,"d":10.5,"ei":-0.515,"cc":0.116,"ps":0.067},
{"v":51,"n":533,"e":2185,"a":8.2,"d":10.5,"ei":-0.515,"cc":0.116,"ps":0.067},
{"v":52,"n":536,"e":2198,"a":8.2,"d":10.5,"ei":-0.515,"cc":0.116,"ps":0.067},
{"v":53,"n":539,"e":2210,"a":8.2,"d":10.5,"ei":-0.515,"cc":0.116,"ps":0.067},
{"v":54,"n":542,"e":2222,"a":8.2,"d":10.5,"ei":-0.515,"cc":0.117,"ps":0.067},
{"v":55,"n":545,"e":2235,"a":8.2,"d":10.5,"ei":-0.515,"cc":0.117,"ps":0.067},
{"v":56,"n":548,"e":2247,"a":8.2,"d":10.5,"ei":-0.515,"cc":0.117,"ps":0.067},
{"v":57,"n":551,"e":2259,"a":8.2,"d":10.5,"ei":-0.515,"cc":0.117,"ps":0.067},
{"v":58,"n":553,"e":2267,"a":8.2,"d":10.5,"ei":-0.515,"cc":0.117,"ps":0.067},
{"v":59,"n":555,"e":2276,"a":8.2,"d":10.5,"ei":-0.515,"cc":0.117,"ps":0.067}
]
},
"spacing":9,
"resolve":{"scale":{"color":"independent"},"legend":{"color":"independent"}},
"vconcat":[
{"hconcat":[
{"vconcat":[
{"width":167,"height":26,"data":{"name":"linux"},"encoding":{"x":{"field":"v","type":"quantitative","scale":{"domain":[0,35],"nice":false},"axis":{"values":[0,5,10,15,20,25,30,35],"title":null,"format":".6~r"}}},
"layer":[
{"mark":{"type":"line","point":{"shape":"cross","size":10}},"encoding":{"y":{"field":"n","type":"quantitative","scale":{"domain":[0,16000],"nice":false,"zero":false},"axis":{"title":"NodeNum","values":[0,8000,16000],"format":".6~r","titleX":-22}},"color":{"datum":"node","type":"nominal","scale":{"domain":["node","edge"],"range":["#ff0000","#00e000"]},"legend":{"orient":"top-left","title":null}}}},
{"mark":{"type":"line","point":{"shape":"square","size":7}},"encoding":{"y":{"field":"e","type":"quantitative","scale":{"domain":[0,64000],"nice":false,"zero":false},"axis":{"title":"EdgeNum","orient":"right","values":[0,32000,64000],"format":".6~r","titleX":22}},"color":{"datum":"edge","type":"nominal"}}}],
"resolve":{"scale":{"y":"independent"}}},
{"width":167,"height":26,"data":{"name":"linux"},"encoding":{"x":{"field":"v","type":"quantitative","scale":{"domain":[0,35],"nice":false},"axis":{"values":[0,5,10,15,20,25,30,35],"title":null,"format":".6~r"}}},
"layer":[
{"mark":{"type":"line","point":{"shape":"cross","size":10}},"encoding":{"y":{"field":"a","type":"quantitative","scale":{"domain":[5,11],"nice":false,"zero":false},"axis":{"title":"AvgDegree","values":[6,8,10],"format":".6~r","titleX":-22}},"color":{"datum":"AvgDegree","type":"nominal","scale":{"domain":["AvgDegree","D"],"range":["#ff0000","#00e000"]},"legend":{"orient":"top-left","title":null}}}},
{"mark":{"type":"line","point":{"shape":"square","size":7}},"encoding":{"y":{"field":"d","type":"quantitative","scale":{"domain":[5,35],"nice":false,"zero":false},"axis":{"title":"D","orient":"right","values":[10,20,30],"format":".6~r","titleX":22}},"color":{"datum":"D","type":"nominal"}}}],
"resolve":{"scale":{"y":"independent"}}},
{"width":167,"height":26,"data":{"name":"linux"},"encoding":{"x":{"field":"v","type":"quantitative","scale":{"domain":[0,35],"nice":false},"axis":{"values":[0,5,10,15,20,25,30,35],"title":null,"format":".6~r"}}},
"layer":[
{"mark":{"type":"line","point":{"shape":"cross","size":10}},"encoding":{"y":{"field":"ei","type":"quantitative","scale":{"domain":[-0.8,-0.4],"nice":false,"zero":false},"axis":{"title":"EI","values":[-0.8,-0.6,-0.4],"format":".6~r","titleX":-22}},"color":{"datum":"EI","type":"nominal","scale":{"domain":["EI","CC"],"range":["#ff0000","#00e000"]},"legend":{"orient":"top-left","title":null}}}},
{"mark":{"type":"line","point":{"shape":"square","size":7}},"encoding":{"y":{"field":"cc","type":"quantitative","scale":{"domain":[0.1,0.3],"nice":false,"zero":false},"axis":{"title":"CC","orient":"right","values":[0.1,0.2,0.3],"format":".6~r","titleX":22}},"color":{"datum":"CC","type":"nominal"}}}],
"resolve":{"scale":{"y":"independent"}}},
{"width":167,"height":26,"data":{"name":"linux"},"mark":{"type":"line","point":{"shape":"cross","size":10}},"encoding":{"x":{"field":"v","type":"quantitative","scale":{"domain":[0,35],"nice":false},"axis":{"values":[0,5,10,15,20,25,30,35],"title":"(a) Linux","titleFontSize":16,"titlePadding":6,"format":".6~r"}},
"y":{"field":"ps","type":"quantitative","scale":{"domain":[0,0.12],"nice":false,"zero":false},"axis":{"title":"PSG","values":[0,0.04,0.08,0.12],"format":".6~r","titleX":-22}},
"color":{"datum":"PSG","type":"nominal","scale":{"domain":["PSG"],"range":["#ff0000"]},"legend":{"orient":"top-left","title":null}}}}
],"spacing":15.3,"bounds":"flush","resolve":{"scale":{"color":"independent"},"legend":{"color":"independent"}}},
{"vconcat":[
{"width":167,"height":26,"data":{"name":"samba"},"encoding":{"x":{"field":"v","type":"quantitative","scale":{"domain":[0,80],"nice":false},"axis":{"values":[0,20,40,60,80],"title":null,"format":".6~r"}}},
"layer":[
{"mark":{"type":"line","point":{"shape":"cross","size":10}},"encoding":{"y":{"field":"n","type":"quantitative","scale":{"domain":[0,12000],"nice":false,"zero":false},"axis":{"title":"NodeNum","values":[0,4000,8000,12000],"format":".6~r","titleX":-22}},"color":{"datum":"node","type":"nominal","scale":{"domain":["node","edge"],"range":["#ff0000","#00e000"]},"legend":{"orient":"top-left","title":null}}}},
{"mark":{"type":"line","point":{"shape":"square","size":7}},"encoding":{"y":{"field":"e","type":"quantitative","scale":{"domain":[0,64000],"nice":false,"zero":false},"axis":{"title":"EdgeNum","orient":"right","values":[0,32000,64000],"format":".6~r","titleX":22}},"color":{"datum":"edge","type":"nominal"}}}],
"resolve":{"scale":{"y":"independent"}}},
{"width":167,"height":26,"data":{"name":"samba"},"encoding":{"x":{"field":"v","type":"quantitative","scale":{"domain":[0,80],"nice":false},"axis":{"values":[0,20,40,60,80],"title":null,"format":".6~r"}}},
"layer":[
{"mark":{"type":"line","point":{"shape":"cross","size":10}},"encoding":{"y":{"field":"a","type":"quantitative","scale":{"domain":[5,11],"nice":false,"zero":false},"axis":{"title":"AvgDegree","values":[6,8,10],"format":".6~r","titleX":-22}},"color":{"datum":"AvgDegree","type":"nominal","scale":{"domain":["AvgDegree","D"],"range":["#ff0000","#00e000"]},"legend":{"orient":"top-left","title":null}}}},
{"mark":{"type":"line","point":{"shape":"square","size":7}},"encoding":{"y":{"field":"d","type":"quantitative","scale":{"domain":[5,35],"nice":false,"zero":false},"axis":{"title":"D","orient":"right","values":[10,20,30],"format":".6~r","titleX":22}},"color":{"datum":"D","type":"nominal"}}}],
"resolve":{"scale":{"y":"independent"}}},
{"width":167,"height":26,"data":{"name":"samba"},"encoding":{"x":{"field":"v","type":"quantitative","scale":{"domain":[0,80],"nice":false},"axis":{"values":[0,20,40,60,80],"title":null,"format":".6~r"}}},
"layer":[
{"mark":{"type":"line","point":{"shape":"cross","size":10}},"encoding":{"y":{"field":"ei","type":"quantitative","scale":{"domain":[-0.8,-0.4],"nice":false,"zero":false},"axis":{"title":"EI","values":[-0.8,-0.6,-0.4],"format":".6~r","titleX":-22}},"color":{"datum":"EI","type":"nominal","scale":{"domain":["EI","CC"],"range":["#ff0000","#00e000"]},"legend":{"orient":"top-left","title":null}}}},
{"mark":{"type":"line","point":{"shape":"square","size":7}},"encoding":{"y":{"field":"cc","type":"quantitative","scale":{"domain":[0.1,0.3],"nice":false,"zero":false},"axis":{"title":"CC","orient":"right","values":[0.1,0.2,0.3],"format":".6~r","titleX":22}},"color":{"datum":"CC","type":"nominal"}}}],
"resolve":{"scale":{"y":"independent"}}},
{"width":167,"height":26,"data":{"name":"samba"},"mark":{"type":"line","point":{"shape":"cross","size":10}},"encoding":{"x":{"field":"v","type":"quantitative","scale":{"domain":[0,80],"nice":false},"axis":{"values":[0,20,40,60,80],"title":"(b) Samba","titleFontSize":16,"titlePadding":6,"format":".6~r"}},
"y":{"field":"ps","type":"quantitative","scale":{"domain":[0,0.12],"nice":false,"zero":false},"axis":{"title":"PSG","values":[0,0.04,0.08,0.12],"format":".6~r","titleX":-22}},
"color":{"datum":"PSG","type":"nominal","scale":{"domain":["PSG"],"range":["#ff0000"]},"legend":{"orient":"top-left","title":null}}}}
],"spacing":15.3,"bounds":"flush","resolve":{"scale":{"color":"independent"},"legend":{"color":"independent"}}}
],"spacing":14,"resolve":{"scale":{"color":"independent"},"legend":{"color":"independent"}}},
{"hconcat":[
{"vconcat":[
{"width":167,"height":26,"data":{"name":"bind"},"encoding":{"x":{"field":"v","type":"quantitative","scale":{"domain":[0,25],"nice":false},"axis":{"values":[0,5,10,15,20,25],"title":null,"format":".6~r"}}},
"layer":[
{"mark":{"type":"line","point":{"shape":"cross","size":10}},"encoding":{"y":{"field":"n","type":"quantitative","scale":{"domain":[0,6000],"nice":false,"zero":false},"axis":{"title":"NodeNum","values":[0,2000,4000,6000],"format":".6~r","titleX":-22}},"color":{"datum":"node","type":"nominal","scale":{"domain":["node","edge"],"range":["#ff0000","#00e000"]},"legend":{"orient":"bottom-right","title":null}}}},
{"mark":{"type":"line","point":{"shape":"square","size":7}},"encoding":{"y":{"field":"e","type":"quantitative","scale":{"domain":[0,18000],"nice":false,"zero":false},"axis":{"title":"EdgeNum","orient":"right","values":[0,6000,12000,18000],"format":".6~r","titleX":22}},"color":{"datum":"edge","type":"nominal"}}}],
"resolve":{"scale":{"y":"independent"}}},
{"width":167,"height":26,"data":{"name":"bind"},"encoding":{"x":{"field":"v","type":"quantitative","scale":{"domain":[0,25],"nice":false},"axis":{"values":[0,5,10,15,20,25],"title":null,"format":".6~r"}}},
"layer":[
{"mark":{"type":"line","point":{"shape":"cross","size":10}},"encoding":{"y":{"field":"a","type":"quantitative","scale":{"domain":[5,11],"nice":false,"zero":false},"axis":{"title":"AvgDegree","values":[6,8,10],"format":".6~r","titleX":-22}},"color":{"datum":"AvgDegree","type":"nominal","scale":{"domain":["AvgDegree","D"],"range":["#ff0000","#00e000"]},"legend":{"orient":"top-left","title":null}}}},
{"mark":{"type":"line","point":{"shape":"square","size":7}},"encoding":{"y":{"field":"d","type":"quantitative","scale":{"domain":[5,35],"nice":false,"zero":false},"axis":{"title":"D","orient":"right","values":[10,20,30],"format":".6~r","titleX":22}},"color":{"datum":"D","type":"nominal"}}}],
"resolve":{"scale":{"y":"independent"}}},
{"width":167,"height":26,"data":{"name":"bind"},"encoding":{"x":{"field":"v","type":"quantitative","scale":{"domain":[0,25],"nice":false},"axis":{"values":[0,5,10,15,20,25],"title":null,"format":".6~r"}}},
"layer":[
{"mark":{"type":"line","point":{"shape":"cross","size":10}},"encoding":{"y":{"field":"ei","type":"quantitative","scale":{"domain":[-0.8,-0.4],"nice":false,"zero":false},"axis":{"title":"EI","values":[-0.8,-0.6,-0.4],"format":".6~r","titleX":-22}},"color":{"datum":"EI","type":"nominal","scale":{"domain":["EI","CC"],"range":["#ff0000","#00e000"]},"legend":{"orient":"top-left","title":null}}}},
{"mark":{"type":"line","point":{"shape":"square","size":7}},"encoding":{"y":{"field":"cc","type":"quantitative","scale":{"domain":[0.1,0.3],"nice":false,"zero":false},"axis":{"title":"CC","orient":"right","values":[0.1,0.2,0.3],"format":".6~r","titleX":22}},"color":{"datum":"CC","type":"nominal"}}}],
"resolve":{"scale":{"y":"independent"}}},
{"width":167,"height":26,"data":{"name":"bind"},"mark":{"type":"line","point":{"shape":"cross","size":10}},"encoding":{"x":{"field":"v","type":"quantitative","scale":{"domain":[0,25],"nice":false},"axis":{"values":[0,5,10,15,20,25],"title":"(c) BIND","titleFontSize":16,"titlePadding":6,"format":".6~r"}},
"y":{"field":"ps","type":"quantitative","scale":{"domain":[0,0.12],"nice":false,"zero":false},"axis":{"title":"PSG","values":[0,0.04,0.08,0.12],"format":".6~r","titleX":-22}},
"color":{"datum":"PSG","type":"nominal","scale":{"domain":["PSG"],"range":["#ff0000"]},"legend":{"orient":"top-left","title":null}}}}
],"spacing":15.3,"bounds":"flush","resolve":{"scale":{"color":"independent"},"legend":{"color":"independent"}}},
{"vconcat":[
{"width":167,"height":26,"data":{"name":"sendmail"},"encoding":{"x":{"field":"v","type":"quantitative","scale":{"domain":[0,60],"nice":false},"axis":{"values":[0,10,20,30,40,50,60],"title":null,"format":".6~r"}}},
"layer":[
{"mark":{"type":"line","point":{"shape":"cross","size":10}},"encoding":{"y":{"field":"n","type":"quantitative","scale":{"domain":[200,800],"nice":false,"zero":false},"axis":{"title":"NodeNum","values":[200,400,600,800],"format":".6~r","titleX":-22}},"color":{"datum":"node","type":"nominal","scale":{"domain":["node","edge"],"range":["#ff0000","#00e000"]},"legend":{"orient":"bottom-right","title":null}}}},
{"mark":{"type":"line","point":{"shape":"square","size":7}},"encoding":{"y":{"field":"e","type":"quantitative","scale":{"domain":[0,4800],"nice":false,"zero":false},"axis":{"title":"EdgeNum","orient":"right","values":[0,1600,3200,4800],"format":".6~r","titleX":22}},"color":{"datum":"edge","type":"nominal"}}}],
"resolve":{"scale":{"y":"independent"}}},
{"width":167,"height":26,"data":{"name":"sendmail"},"encoding":{"x":{"field":"v","type":"quantitative","scale":{"domain":[0,60],"nice":false},"axis":{"values":[0,10,20,30,40,50,60],"title":null,"format":".6~r"}}},
"layer":[
{"mark":{"type":"line","point":{"shape":"cross","size":10}},"encoding":{"y":{"field":"a","type":"quantitative","scale":{"domain":[5,11],"nice":false,"zero":false},"axis":{"title":"AvgDegree","values":[6,8,10],"format":".6~r","titleX":-22}},"color":{"datum":"AvgDegree","type":"nominal","scale":{"domain":["AvgDegree","D"],"range":["#ff0000","#00e000"]},"legend":{"orient":"bottom-right","title":null}}}},
{"mark":{"type":"line","point":{"shape":"square","size":7}},"encoding":{"y":{"field":"d","type":"quantitative","scale":{"domain":[5,35],"nice":false,"zero":false},"axis":{"title":"D","orient":"right","values":[10,20,30],"format":".6~r","titleX":22}},"color":{"datum":"D","type":"nominal"}}}],
"resolve":{"scale":{"y":"independent"}}},
{"width":167,"height":26,"data":{"name":"sendmail"},"encoding":{"x":{"field":"v","type":"quantitative","scale":{"domain":[0,60],"nice":false},"axis":{"values":[0,10,20,30,40,50,60],"title":null,"format":".6~r"}}},
"layer":[
{"mark":{"type":"line","point":{"shape":"cross","size":10}},"encoding":{"y":{"field":"ei","type":"quantitative","scale":{"domain":[-0.8,-0.4],"nice":false,"zero":false},"axis":{"title":"EI","values":[-0.8,-0.6,-0.4],"format":".6~r","titleX":-22}},"color":{"datum":"EI","type":"nominal","scale":{"domain":["EI","CC"],"range":["#ff0000","#00e000"]},"legend":{"orient":"bottom-right","title":null}}}},
{"mark":{"type":"line","point":{"shape":"square","size":7}},"encoding":{"y":{"field":"cc","type":"quantitative","scale":{"domain":[0.1,0.3],"nice":false,"zero":false},"axis":{"title":"CC","orient":"right","values":[0.1,0.2,0.3],"format":".6~r","titleX":22}},"color":{"datum":"CC","type":"nominal"}}}],
"resolve":{"scale":{"y":"independent"}}},
{"width":167,"height":26,"data":{"name":"sendmail"},"mark":{"type":"line","point":{"shape":"cross","size":10}},"encoding":{"x":{"field":"v","type":"quantitative","scale":{"domain":[0,60],"nice":false},"axis":{"values":[0,10,20,30,40,50,60],"title":"(d) Sendmail","titleFontSize":16,"titlePadding":6,"format":".6~r"}},
"y":{"field":"ps","type":"quantitative","scale":{"domain":[0,0.12],"nice":false,"zero":false},"axis":{"title":"PSG","values":[0,0.04,0.08,0.12],"format":".6~r","titleX":-22}},
"color":{"datum":"PSG","type":"nominal","scale":{"domain":["PSG"],"range":["#ff0000"]},"legend":{"orient":"bottom-left","title":null}}}}
],"spacing":15.3,"bounds":"flush","resolve":{"scale":{"color":"independent"},"legend":{"color":"independent"}}}
],"spacing":14,"resolve":{"scale":{"color":"independent"},"legend":{"color":"independent"}}},
{"hconcat":[
{"vconcat":[
{"width":167,"height":26,"data":{"name":"openssh"},"encoding":{"x":{"field":"v","type":"quantitative","scale":{"domain":[0,80],"nice":false},"axis":{"values":[0,10,20,30,40,50,60,70,80],"title":null,"format":".6~r"}}},
"layer":[
{"mark":{"type":"line","point":{"shape":"cross","size":10}},"encoding":{"y":{"field":"n","type":"quantitative","scale":{"domain":[0,1500],"nice":false,"zero":false},"axis":{"title":"NodeNum","values":[0,500,1000,1500],"format":".6~r","titleX":-22}},"color":{"datum":"node","type":"nominal","scale":{"domain":["node","edge"],"range":["#ff0000","#00e000"]},"legend":{"orient":"top-left","title":null}}}},
{"mark":{"type":"line","point":{"shape":"square","size":7}},"encoding":{"y":{"field":"e","type":"quantitative","scale":{"domain":[0,6000],"nice":false,"zero":false},"axis":{"title":"EdgeNum","orient":"right","values":[0,2000,4000,6000],"format":".6~r","titleX":22}},"color":{"datum":"edge","type":"nominal"}}}],
"resolve":{"scale":{"y":"independent"}}},
{"width":167,"height":26,"data":{"name":"openssh"},"encoding":{"x":{"field":"v","type":"quantitative","scale":{"domain":[0,80],"nice":false},"axis":{"values":[0,10,20,30,40,50,60,70,80],"title":null,"format":".6~r"}}},
"layer":[
{"mark":{"type":"line","point":{"shape":"cross","size":10}},"encoding":{"y":{"field":"a","type":"quantitative","scale":{"domain":[5,11],"nice":false,"zero":false},"axis":{"title":"AvgDegree","values":[6,8,10],"format":".6~r","titleX":-22}},"color":{"datum":"AvgDegree","type":"nominal","scale":{"domain":["AvgDegree","D"],"range":["#ff0000","#00e000"]},"legend":{"orient":"top-left","title":null}}}},
{"mark":{"type":"line","point":{"shape":"square","size":7}},"encoding":{"y":{"field":"d","type":"quantitative","scale":{"domain":[5,35],"nice":false,"zero":false},"axis":{"title":"D","orient":"right","values":[10,20,30],"format":".6~r","titleX":22}},"color":{"datum":"D","type":"nominal"}}}],
"resolve":{"scale":{"y":"independent"}}},
{"width":167,"height":26,"data":{"name":"openssh"},"encoding":{"x":{"field":"v","type":"quantitative","scale":{"domain":[0,80],"nice":false},"axis":{"values":[0,10,20,30,40,50,60,70,80],"title":null,"format":".6~r"}}},
"layer":[
{"mark":{"type":"line","point":{"shape":"cross","size":10}},"encoding":{"y":{"field":"ei","type":"quantitative","scale":{"domain":[-0.8,-0.4],"nice":false,"zero":false},"axis":{"title":"EI","values":[-0.8,-0.6,-0.4],"format":".6~r","titleX":-22}},"color":{"datum":"EI","type":"nominal","scale":{"domain":["EI","CC"],"range":["#ff0000","#00e000"]},"legend":{"orient":"top-right","title":null}}}},
{"mark":{"type":"line","point":{"shape":"square","size":7}},"encoding":{"y":{"field":"cc","type":"quantitative","scale":{"domain":[0.1,0.3],"nice":false,"zero":false},"axis":{"title":"CC","orient":"right","values":[0.1,0.2,0.3],"format":".6~r","titleX":22}},"color":{"datum":"CC","type":"nominal"}}}],
"resolve":{"scale":{"y":"independent"}}},
{"width":167,"height":26,"data":{"name":"openssh"},"mark":{"type":"line","point":{"shape":"cross","size":10}},"encoding":{"x":{"field":"v","type":"quantitative","scale":{"domain":[0,80],"nice":false},"axis":{"values":[0,10,20,30,40,50,60,70,80],"title":"(e) OpenSSH","titleFontSize":16,"titlePadding":6,"format":".6~r"}},
"y":{"field":"ps","type":"quantitative","scale":{"domain":[0,0.12],"nice":false,"zero":false},"axis":{"title":"PSG","values":[0,0.04,0.08,0.12],"format":".6~r","titleX":-22}},
"color":{"datum":"PSG","type":"nominal","scale":{"domain":["PSG"],"range":["#ff0000"]},"legend":{"orient":"bottom-left","title":null}}}}
],"spacing":15.3,"bounds":"flush","resolve":{"scale":{"color":"independent"},"legend":{"color":"independent"}}},
{"vconcat":[
{"width":167,"height":26,"data":{"name":"vsftpd"},"encoding":{"x":{"field":"v","type":"quantitative","scale":{"domain":[0,60],"nice":false},"axis":{"values":[0,15,30,45,60],"title":null,"format":".6~r"}}},
"layer":[
{"mark":{"type":"line","point":{"shape":"cross","size":10}},"encoding":{"y":{"field":"n","type":"quantitative","scale":{"domain":[0,600],"nice":false,"zero":false},"axis":{"title":"NodeNum","values":[0,200,400,600],"format":".6~r","titleX":-22}},"color":{"datum":"node","type":"nominal","scale":{"domain":["node","edge"],"range":["#ff0000","#00e000"]},"legend":{"orient":"top-left","title":null}}}},
{"mark":{"type":"line","point":{"shape":"square","size":7}},"encoding":{"y":{"field":"e","type":"quantitative","scale":{"domain":[0,2400],"nice":false,"zero":false},"axis":{"title":"EdgeNum","orient":"right","values":[0,800,1600,2400],"format":".6~r","titleX":22}},"color":{"datum":"edge","type":"nominal"}}}],
"resolve":{"scale":{"y":"independent"}}},
{"width":167,"height":26,"data":{"name":"vsftpd"},"encoding":{"x":{"field":"v","type":"quantitative","scale":{"domain":[0,60],"nice":false},"axis":{"values":[0,15,30,45,60],"title":null,"format":".6~r"}}},
"layer":[
{"mark":{"type":"line","point":{"shape":"cross","size":10}},"encoding":{"y":{"field":"a","type":"quantitative","scale":{"domain":[5,11],"nice":false,"zero":false},"axis":{"title":"AvgDegree","values":[6,8,10],"format":".6~r","titleX":-22}},"color":{"datum":"AvgDegree","type":"nominal","scale":{"domain":["AvgDegree","D"],"range":["#ff0000","#00e000"]},"legend":{"orient":"top-left","title":null}}}},
{"mark":{"type":"line","point":{"shape":"square","size":7}},"encoding":{"y":{"field":"d","type":"quantitative","scale":{"domain":[5,35],"nice":false,"zero":false},"axis":{"title":"D","orient":"right","values":[10,20,30],"format":".6~r","titleX":22}},"color":{"datum":"D","type":"nominal"}}}],
"resolve":{"scale":{"y":"independent"}}},
{"width":167,"height":26,"data":{"name":"vsftpd"},"encoding":{"x":{"field":"v","type":"quantitative","scale":{"domain":[0,60],"nice":false},"axis":{"values":[0,15,30,45,60],"title":null,"format":".6~r"}}},
"layer":[
{"mark":{"type":"line","point":{"shape":"cross","size":10}},"encoding":{"y":{"field":"ei","type":"quantitative","scale":{"domain":[-0.8,-0.4],"nice":false,"zero":false},"axis":{"title":"EI","values":[-0.8,-0.6,-0.4],"format":".6~r","titleX":-22}},"color":{"datum":"EI","type":"nominal","scale":{"domain":["EI","CC"],"range":["#ff0000","#00e000"]},"legend":{"orient":"bottom-left","title":null}}}},
{"mark":{"type":"line","point":{"shape":"square","size":7}},"encoding":{"y":{"field":"cc","type":"quantitative","scale":{"domain":[0.1,0.3],"nice":false,"zero":false},"axis":{"title":"CC","orient":"right","values":[0.1,0.2,0.3],"format":".6~r","titleX":22}},"color":{"datum":"CC","type":"nominal"}}}],
"resolve":{"scale":{"y":"independent"}}},
{"width":167,"height":26,"data":{"name":"vsftpd"},"mark":{"type":"line","point":{"shape":"cross","size":10}},"encoding":{"x":{"field":"v","type":"quantitative","scale":{"domain":[0,60],"nice":false},"axis":{"values":[0,15,30,45,60],"title":"(f) vsftpd","titleFontSize":16,"titlePadding":6,"format":".6~r"}},
"y":{"field":"ps","type":"quantitative","scale":{"domain":[0,0.12],"nice":false,"zero":false},"axis":{"title":"PSG","values":[0,0.04,0.08,0.12],"format":".6~r","titleX":-22}},
"color":{"datum":"PSG","type":"nominal","scale":{"domain":["PSG"],"range":["#ff0000"]},"legend":{"orient":"bottom-left","title":null}}}}
],"spacing":15.3,"bounds":"flush","resolve":{"scale":{"color":"independent"},"legend":{"color":"independent"}}}
],"spacing":14,"resolve":{"scale":{"color":"independent"},"legend":{"color":"independent"}}}
]
}
